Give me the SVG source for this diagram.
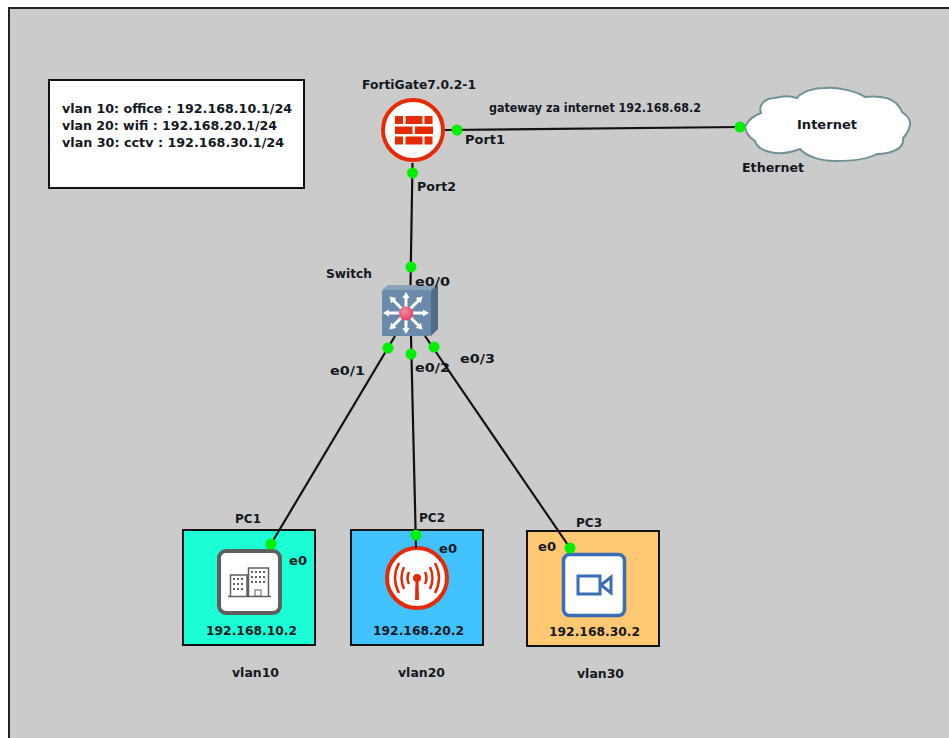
<svg xmlns="http://www.w3.org/2000/svg" width="949" height="738" viewBox="0 0 949 738">
<style>
text{font-family:"DejaVu Sans","Liberation Sans",sans-serif;font-weight:700;font-size:13px;fill:#14181e}
.box{stroke:#111;stroke-width:2}
.link{stroke:#111;stroke-width:2.200;fill:none}
.port{fill:#00f000}
.win{fill:none;stroke:#5f5f5f;stroke-width:2;stroke-dasharray:2 2}
</style>
<defs>
<radialGradient id="ball" cx="40%" cy="35%" r="70%"><stop offset="0" stop-color="#f58aa0"/><stop offset="1" stop-color="#e23f62"/></radialGradient>
<marker id="head" viewBox="0 0 6 6" refX="1" refY="3" markerWidth="2.500" markerHeight="2.500" orient="auto"><path d="M0 0L5 3L0 6Z" fill="#fff"/></marker>
</defs>
<rect width="949" height="738" fill="#fff"/>
<rect x="9" y="8" width="945" height="740" fill="#cbcbcb" stroke="#222" stroke-width="2"/>
<g id="note">
<rect class="box" x="49" y="80" width="255" height="108" fill="#fff"/>
<text x="62" y="113" textLength="230" lengthAdjust="spacingAndGlyphs">vlan 10: office : 192.168.10.1/24</text>
<text x="62" y="130" textLength="215" lengthAdjust="spacingAndGlyphs">vlan 20: wifi : 192.168.20.1/24</text>
<text x="62" y="147" textLength="222" lengthAdjust="spacingAndGlyphs">vlan 30: cctv : 192.168.30.1/24</text>
</g>
<g id="fortigate">
<circle cx="413" cy="130" r="30" fill="#fff" stroke="#e62a05" stroke-width="4"/>
<path fill="#e62a05" d="M395 116h8v8h-8zM405.500 116h17v8h-17zM424.500 116h8v8h-8zM395 126.500h17.500v7.500h-17.500zM415 126.500h18v7.500h-18zM395 136.500h8v8h-8zM405.500 136.500h17v8h-17zM424.500 136.500h8v8h-8z"/>
<text x="362" y="89" textLength="114" lengthAdjust="spacingAndGlyphs">FortiGate7.0.2-1</text>
<text x="465" y="144" textLength="40" lengthAdjust="spacingAndGlyphs">Port1</text>
<text x="417" y="191" textLength="39" lengthAdjust="spacingAndGlyphs">Port2</text>
</g>
<text x="489" y="112" textLength="212" lengthAdjust="spacingAndGlyphs">gateway za internet 192.168.68.2</text>
<g id="internet">
<path fill="#fff" stroke="#6f9298" stroke-width="2" d="M745 127C748 120 755 115 761 113C758 104 766 98 775 98C782 96 791 96 797 98C802 91 815 88 825 88C838 87 856 91 865 97C876 96 888 96 896 103C899 106 901 109 902 112C908 116 911 120 910 125C909 131 906 135 903 138C904 143 901 148 896 150C890 153 883 154 877 154C868 159 850 161 835 161C820 161 806 156 800 149C790 153 778 154 770 152C762 150 756 146 755 141C750 138 746 133 745 127Z"/>
<text x="797" y="129" textLength="60" lengthAdjust="spacingAndGlyphs">Internet</text>
<text x="742" y="172" textLength="62" lengthAdjust="spacingAndGlyphs">Ethernet</text>
</g>
<g id="switch">
<path fill="#8ba2b8" d="M382 290l6-5h50l-7 5z"/>
<path fill="#4f6d88" d="M431 290l7-5v44l-7 7z"/>
<rect x="382" y="290" width="49" height="46" fill="#6b8aab" rx="1.500"/>
<g stroke="#fff" stroke-width="3" fill="none" marker-end="url(#head)">
<path d="M406 313V297"/><path d="M406 313V329"/><path d="M406 313H388"/><path d="M406 313H424"/>
<path d="M406 313L393 300"/><path d="M406 313L419 300"/><path d="M406 313L393 326"/><path d="M406 313L419 326"/>
</g>
<circle cx="406" cy="313.500" r="7" fill="url(#ball)"/>
<text x="326" y="278" textLength="46" lengthAdjust="spacingAndGlyphs">Switch</text>
<text x="415" y="286" textLength="35" lengthAdjust="spacingAndGlyphs">e0/0</text>
<text x="330" y="375" textLength="35" lengthAdjust="spacingAndGlyphs">e0/1</text>
<text x="415" y="372" textLength="35" lengthAdjust="spacingAndGlyphs">e0/2</text>
<text x="460" y="363" textLength="35" lengthAdjust="spacingAndGlyphs">e0/3</text>
</g>
<g id="pc1">
<rect class="box" x="183" y="530" width="132" height="115" fill="#1affd5"/>
<rect x="219" y="551" width="61" height="62" rx="7" fill="#fff" stroke="#5f5f5f" stroke-width="4"/>
<path fill="#fff" stroke="#5f5f5f" stroke-width="1.500" d="M230.500 596V575H247V596M248.500 596V568H268.500V596"/>
<path stroke="#5f5f5f" stroke-width="1.500" d="M228 596.500H271"/>
<path class="win" d="M233 579H245M233 584H245M233 589H245M251 572H266M251 577H266M251 582H266"/>
<rect x="255" y="590" width="6" height="6" fill="#fff" stroke="#5f5f5f"/>
<text x="235" y="523" textLength="26" lengthAdjust="spacingAndGlyphs">PC1</text>
<text x="289" y="565" textLength="18" lengthAdjust="spacingAndGlyphs">e0</text>
<text x="206" y="635" textLength="91" lengthAdjust="spacingAndGlyphs">192.168.10.2</text>
</g>
<g id="pc2">
<rect class="box" x="351" y="530" width="132" height="115" fill="#42c3ff"/>
<circle cx="417" cy="578" r="30" fill="#fff" stroke="#e62a05" stroke-width="4"/>
<path fill="none" stroke="#e62a05" stroke-width="2.500" d="M409 572Q406 578 409 584M425 572Q428 578 425 584M404 567Q399 578 404 589M430 567Q435 578 430 589M399 563Q391 578 399 593M435 563Q443 578 435 593"/>
<path fill="#e62a05" d="M415.500 580H418.500L419 600H415Z"/>
<circle cx="417" cy="578" r="4" fill="#e62a05"/>
<text x="419" y="522" textLength="26" lengthAdjust="spacingAndGlyphs">PC2</text>
<text x="439" y="553" textLength="18" lengthAdjust="spacingAndGlyphs">e0</text>
<text x="373" y="635" textLength="91" lengthAdjust="spacingAndGlyphs">192.168.20.2</text>
</g>
<g id="pc3">
<rect class="box" x="527" y="531" width="132" height="115" fill="#ffc873"/>
<rect x="563.500" y="554.500" width="61" height="61" rx="6" fill="#fff" stroke="#3a6db8" stroke-width="3.500"/>
<path fill="none" stroke="#3a6db8" stroke-width="3" d="M578 576H600V594H578ZM601 585L611 577V593Z"/>
<text x="576" y="527" textLength="26" lengthAdjust="spacingAndGlyphs">PC3</text>
<text x="538" y="551" textLength="18" lengthAdjust="spacingAndGlyphs">e0</text>
<text x="549" y="636" textLength="91" lengthAdjust="spacingAndGlyphs">192.168.30.2</text>
</g>
<text x="232" y="677" textLength="47" lengthAdjust="spacingAndGlyphs">vlan10</text>
<text x="398" y="677" textLength="47" lengthAdjust="spacingAndGlyphs">vlan20</text>
<text x="577" y="678" textLength="47" lengthAdjust="spacingAndGlyphs">vlan30</text>
<g id="connectors">
<path class="link" d="M445 130L740 127"/>
<path class="link" d="M412.500 163L410.500 285"/>
<path class="link" d="M395 336L271 544"/>
<path class="link" d="M411 336L416 548"/>
<path class="link" d="M425 336L570 548"/>
</g>
<g id="ports">
<circle class="port" cx="457" cy="130" r="5.500"/>
<circle class="port" cx="412.500" cy="173" r="5.500"/>
<circle class="port" cx="740" cy="127" r="5.500"/>
<circle class="port" cx="411" cy="267" r="5.500"/>
<circle class="port" cx="388" cy="348" r="5.500"/>
<circle class="port" cx="411" cy="354" r="5.500"/>
<circle class="port" cx="434" cy="347" r="5.500"/>
<circle class="port" cx="271" cy="544" r="5.500"/>
<circle class="port" cx="416" cy="535" r="5.500"/>
<circle class="port" cx="570" cy="548" r="5.500"/>
</g>
</svg>
